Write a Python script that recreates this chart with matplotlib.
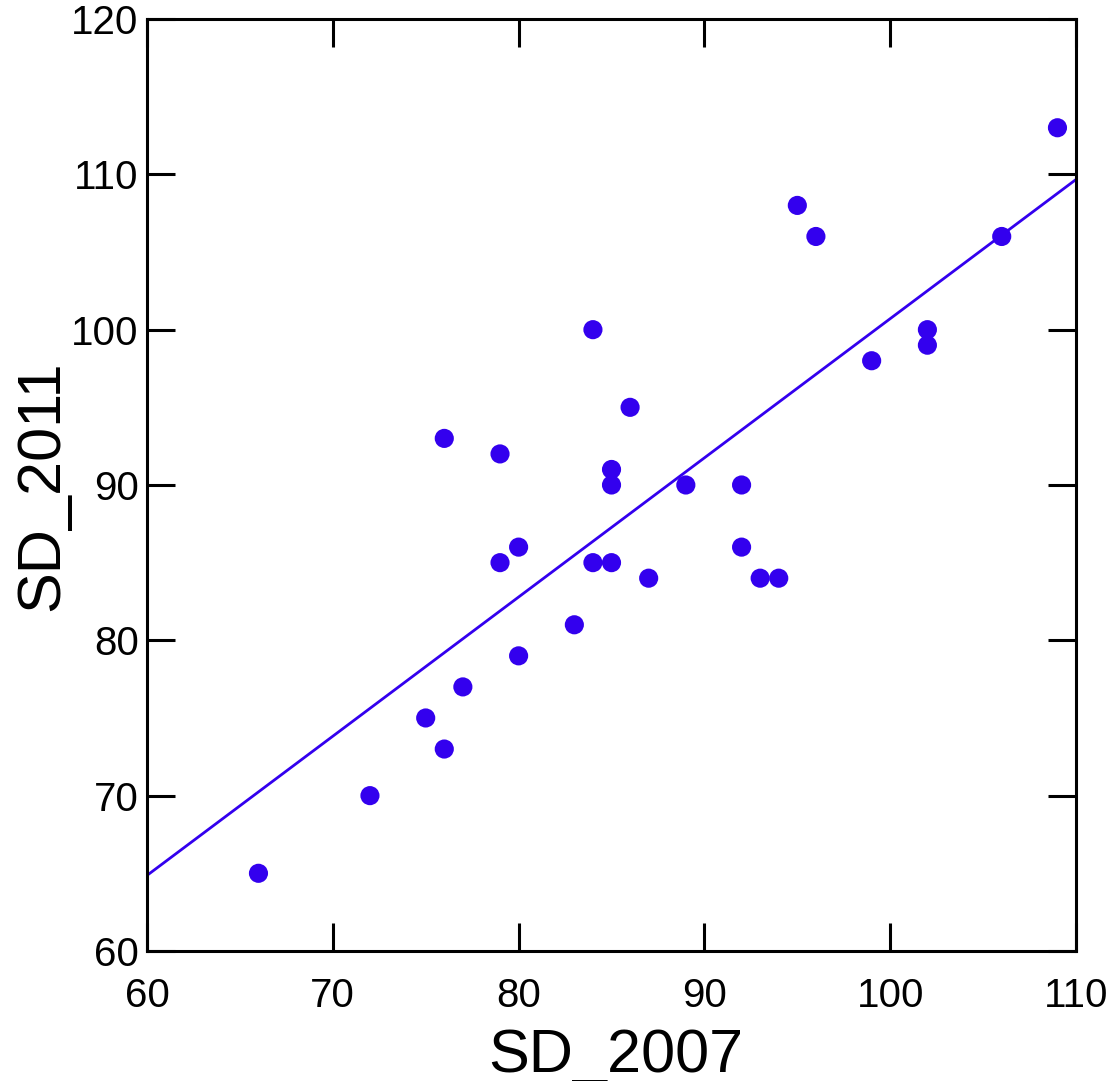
import numpy as np
import matplotlib.pyplot as plt

plt.rcParams['font.family'] = ['Liberation Sans', 'DejaVu Sans']

sd_2007 = [66, 72, 75, 76, 77, 76, 79, 79, 80, 80, 83, 84, 84, 85, 85, 85,
           86, 87, 89, 92, 92, 93, 94, 95, 96, 99, 102, 102, 106, 109]
sd_2011 = [65, 70, 75, 73, 77, 93, 92, 85, 86, 79, 81, 100, 85, 91, 90, 85,
           95, 84, 90, 90, 86, 84, 84, 108, 106, 98, 100, 99, 106, 113]
x_ticks = [60, 70, 80, 90, 100, 110]
y_ticks = [60, 70, 80, 90, 100, 110, 120]

blue = '#3300EE'

fig = plt.figure(figsize=(11.16, 10.81), dpi=100)
ax = fig.add_axes([0.1317, 0.1203, 0.8325, 0.8621])

ax.scatter(sd_2007, sd_2011, s=190, color=blue, edgecolors='none', zorder=3)

# least squares fit line across the full x range
slope, icept = np.polyfit(sd_2007, sd_2011, 1)
xl = np.array([60, 110])
ax.plot(xl, slope * xl + icept, color=blue, lw=2, zorder=2)

ax.set_xlim(60, 110)
ax.set_ylim(60, 120)
ax.set_xticks(x_ticks)
ax.set_yticks(y_ticks)
ax.tick_params(axis='both', which='both', direction='in', length=20, width=2.2,
               top=True, right=True, labelsize=29)
ax.tick_params(axis='x', pad=19)
ax.tick_params(axis='y', pad=6)
for sp in ax.spines.values():
    sp.set_linewidth(2.2)

# axis titles placed in figure coords
fig.text(616 / 1116, 9 / 1081, 'SD_2007', fontsize=44, ha='center', va='baseline')
fig.text(14 / 1116, 1 - 486 / 1081, 'SD_2011', fontsize=44, rotation=90,
         ha='left', va='center')

fig.savefig('out.png', dpi=100)
